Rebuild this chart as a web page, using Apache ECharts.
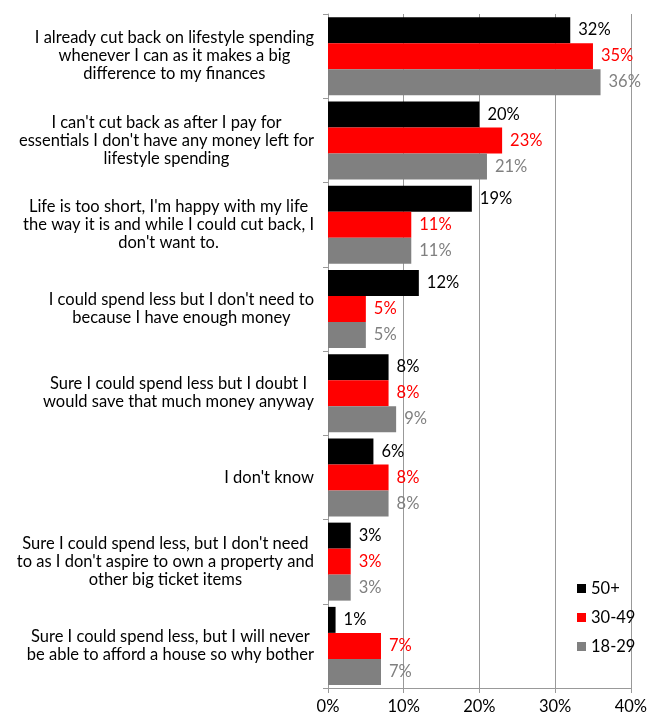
<!DOCTYPE html>
<html>
<head>
<meta charset="utf-8">
<script src="https://cdn.jsdelivr.net/npm/echarts@6/dist/echarts.min.js"></script>
<style>
  html, body { margin: 0; padding: 0; background: #fff; }
  #chart { width: 650px; height: 715px; }
</style>
</head>
<body>
<div id="chart"></div>
<script>
// Reasons given for not cutting back on lifestyle spending, by age group (%)
const categories = [
  "I already cut back on lifestyle spending\nwhenever I can as it makes a big\ndifference to my finances",
  "I can't cut back as after I pay for\nessentials I don't have any money left for\nlifestyle spending",
  "Life is too short, I'm happy with my life\nthe way it is and while I could cut back, I\ndon't want to.",
  "I could spend less but I don't need to\nbecause I have enough money",
  "Sure I could spend less but I doubt I\nwould save that much money anyway",
  "I don't know",
  "Sure I could spend less, but I don't need\nto as I don't aspire to own a property and\nother big ticket items",
  "Sure I could spend less, but I will never\nbe able to afford a house so why bother"
];
const seriesNames = ["50+", "30-49", "18-29"];
const age50plus = [32, 20, 19, 12, 8, 6, 3, 1];
const age30to49 = [35, 23, 11, 5, 8, 8, 3, 7];
const age18to29 = [36, 21, 11, 5, 9, 8, 3, 7];
const xTicks = [0, 10, 20, 30, 40];

const colors = ["#000000", "#ff0000", "#808080"];
const FONT = "Lato";
const FS = 16.5;

const chart = echarts.init(document.getElementById("chart"), null, { renderer: "canvas" });

function makeSeries(name, data, color) {
  return {
    name: name,
    type: "bar",
    data: data,
    barWidth: 26,
    barGap: "0%",
    itemStyle: { color: color },
    label: {
      show: true,
      position: "right",
      distance: 8,
      formatter: "{c}%",
      color: color,
      fontFamily: FONT,
      fontSize: FS
    },
    emphasis: { disabled: true }
  };
}

chart.setOption({
  animation: false,
  textStyle: { fontFamily: FONT },
  grid: { left: 328, right: 15, top: 14, bottom: 27, containLabel: false },
  legend: {
    orient: "vertical",
    left: 572,
    top: 575,
    itemWidth: 9,
    itemHeight: 9,
    itemGap: 12,
    icon: "rect",
    data: seriesNames,
    textStyle: { fontFamily: FONT, fontSize: FS, color: "#000" }
  },
  xAxis: {
    type: "value",
    min: xTicks[0],
    max: xTicks[xTicks.length - 1],
    interval: 10,
    axisLine: { show: true, lineStyle: { color: "#999" } },
    axisTick: { show: true, length: 5, lineStyle: { color: "#999" } },
    splitLine: { show: true, lineStyle: { color: "#999", width: 1 } },
    axisLabel: {
      formatter: "{value}%",
      color: "#000",
      fontFamily: FONT,
      fontSize: FS,
      margin: 10
    }
  },
  yAxis: {
    type: "category",
    data: categories,
    inverse: true,
    axisLine: { show: true, lineStyle: { color: "#999" } },
    axisTick: { show: true, length: 5, lineStyle: { color: "#999" } },
    splitLine: { show: false },
    axisLabel: {
      color: "#000",
      fontFamily: FONT,
      fontSize: FS,
      margin: 14,
      lineHeight: 18,
      interval: 0,
      formatter: function (v) {
        return v.split("\n").map(function (l) { return "{c|" + l + "}"; }).join("\n");
      },
      rich: {
        c: { align: "center", fontFamily: FONT, fontSize: FS, lineHeight: 18, color: "#000" }
      }
    }
  },
  series: [
    makeSeries(seriesNames[0], age50plus, colors[0]),
    makeSeries(seriesNames[1], age30to49, colors[1]),
    makeSeries(seriesNames[2], age18to29, colors[2])
  ]
});
</script>
</body>
</html>
